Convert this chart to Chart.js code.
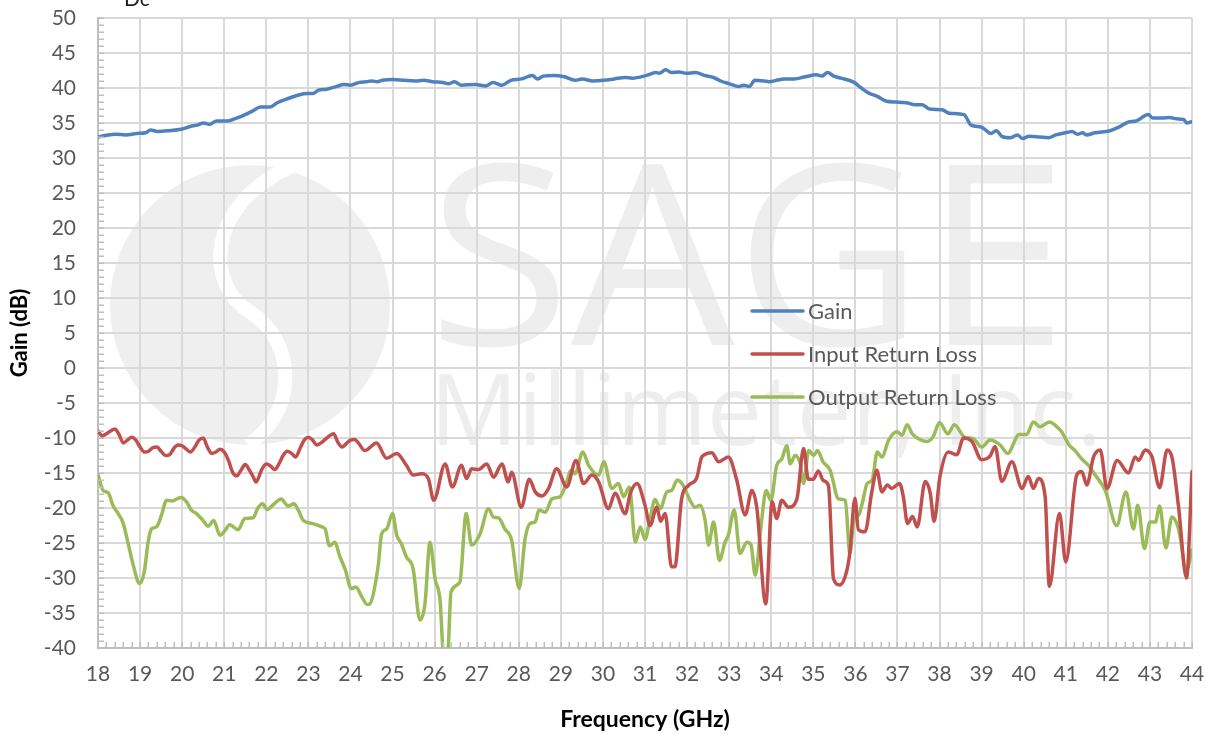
<!DOCTYPE html>
<html>
<head>
<meta charset="utf-8">
<script src="https://cdn.jsdelivr.net/npm/chart.js@4"></script>
<style>
html,body{margin:0;padding:0;background:#fff;}
canvas{display:block;}
</style>
</head>
<body>
<canvas id="c" width="1205" height="734"></canvas>
<script>
const gainFreq = [18.0,18.24,18.41,18.66,18.92,19.13,19.25,19.42,19.68,19.97,20.19,20.36,20.51,20.65,20.82,21.08,21.29,21.46,21.67,21.86,22.09,22.26,22.52,22.77,22.98,23.11,23.24,23.41,23.66,23.85,24.0,24.21,24.38,24.51,24.64,24.76,25.02,25.27,25.53,25.74,25.95,26.2,26.33,26.47,26.63,26.97,27.22,27.39,27.6,27.81,28.07,28.32,28.45,28.58,28.83,29.08,29.34,29.51,29.76,30.02,30.27,30.53,30.69,31.04,31.26,31.34,31.49,31.63,31.81,31.98,32.2,32.41,32.63,32.8,33.01,33.23,33.35,33.48,33.61,33.83,33.95,34.13,34.3,34.55,34.81,35.07,35.2,35.34,35.49,35.66,35.97,36.14,36.31,36.52,36.74,36.95,37.21,37.42,37.59,37.76,38.06,38.23,38.58,38.75,39.0,39.22,39.35,39.48,39.69,39.85,39.97,40.13,40.38,40.59,40.76,41.06,41.15,41.28,41.4,41.49,41.7,42.05,42.26,42.47,42.68,42.96,43.07,43.29,43.46,43.63,43.8,43.88,44.0];
const gainDb = [33.0,33.3,33.4,33.3,33.5,33.6,34.0,33.8,33.9,34.1,34.5,34.7,35.0,34.8,35.3,35.3,35.7,36.1,36.7,37.3,37.3,37.9,38.5,39.0,39.2,39.2,39.7,39.8,40.2,40.5,40.4,40.8,40.9,41.0,40.9,41.1,41.2,41.1,41.0,41.1,40.9,40.8,40.6,40.9,40.4,40.5,40.3,40.8,40.4,41.1,41.3,41.8,41.3,41.7,41.8,41.6,41.1,41.3,41.0,41.1,41.3,41.5,41.4,41.8,42.2,42.1,42.6,42.2,42.3,42.1,42.2,41.8,41.5,41.0,40.6,40.2,40.4,40.2,41.1,41.0,40.9,41.1,41.3,41.3,41.6,41.9,41.7,42.2,41.7,41.4,40.8,40.0,39.3,38.8,38.1,38.0,37.9,37.6,37.6,37.0,36.9,36.4,36.2,34.7,34.4,33.5,33.9,33.1,32.9,33.3,32.8,33.1,33.0,32.9,33.3,33.7,33.8,33.4,33.6,33.3,33.6,33.9,34.4,35.1,35.3,36.2,35.7,35.7,35.8,35.6,35.5,35.0,35.2];

const irlFreq = [18.0,18.1,18.2,18.3,18.4,18.5,18.6,18.7,18.8,18.9,19.0,19.1,19.2,19.3,19.4,19.5,19.6,19.7,19.8,19.9,20.0,20.1,20.2,20.3,20.4,20.5,20.6,20.7,20.8,20.9,21.0,21.1,21.2,21.3,21.4,21.5,21.6,21.7,21.75,21.9,22.0,22.1,22.2,22.3,22.4,22.5,22.6,22.7,22.8,22.9,23.0,23.1,23.2,23.3,23.4,23.5,23.6,23.7,23.8,23.9,24.0,24.1,24.2,24.34,24.62,24.86,25.10,25.33,25.49,25.69,25.85,25.98,26.25,26.42,26.64,26.76,26.88,27.04,27.24,27.40,27.60,27.75,27.83,28.06,28.25,28.39,28.55,28.71,28.90,29.14,29.36,29.54,29.74,29.90,30.13,30.29,30.53,30.65,30.81,31.0,31.12,31.28,31.37,31.48,31.63,31.71,31.87,32.03,32.23,32.35,32.59,32.75,32.98,33.18,33.38,33.54,33.66,33.87,34.02,34.13,34.25,34.41,34.61,34.77,34.88,35.00,35.12,35.24,35.36,35.48,35.63,35.79,35.87,35.99,36.07,36.23,36.39,36.51,36.63,36.76,36.86,37.05,37.14,37.24,37.36,37.47,37.66,37.78,37.87,38.01,38.21,38.41,38.57,38.77,39.00,39.20,39.32,39.48,39.72,39.96,40.11,40.23,40.35,40.51,40.61,40.85,41.00,41.26,41.38,41.50,41.66,41.82,41.98,42.22,42.49,42.65,42.73,42.89,43.05,43.23,43.41,43.53,43.68,43.87,44.0];
const irlDb = [-9.0,-9.7,-9.4,-9.0,-8.7,-9.5,-10.7,-10.3,-9.9,-10.3,-11.3,-12.0,-11.9,-11.4,-11.3,-11.9,-12.5,-12.4,-11.5,-11.0,-11.1,-11.6,-12.0,-11.3,-10.3,-10.0,-11.3,-12.2,-12.0,-11.6,-12.0,-13.2,-14.9,-15.4,-14.6,-13.8,-14.6,-15.7,-16.3,-14.4,-13.7,-14.0,-14.5,-13.7,-12.5,-11.9,-12.2,-12.7,-11.5,-10.3,-9.9,-10.3,-11.0,-10.7,-10.2,-9.7,-9.4,-10.6,-11.3,-10.8,-10.3,-10.2,-10.8,-11.8,-10.7,-12.9,-12.2,-13.9,-15.3,-15.1,-15.8,-18.9,-13.7,-17.0,-13.9,-15.8,-14.4,-14.5,-13.7,-15.6,-13.7,-16.3,-14.9,-19.9,-15.9,-17.7,-18.3,-17.2,-14.4,-17.0,-13.2,-16.5,-15.3,-16.3,-20.1,-17.9,-20.8,-17.9,-16.5,-19.6,-22.5,-19.9,-21.9,-20.8,-28.4,-28.4,-18.7,-16.8,-15.7,-12.7,-12.1,-13.4,-12.7,-16.0,-21.0,-17.5,-20.1,-33.7,-19.1,-21.5,-18.9,-19.9,-18.7,-11.5,-15.9,-15.9,-14.7,-16.1,-16.8,-30.1,-31.0,-29.1,-26.3,-18.6,-23.1,-23.4,-17.7,-14.6,-17.7,-16.7,-17.2,-16.5,-18.4,-22.2,-21.2,-22.7,-16.2,-17.9,-21.9,-15.5,-12.0,-12.4,-10.0,-10.5,-13.1,-12.6,-11.2,-16.2,-13.4,-17.2,-15.5,-17.2,-15.8,-18.4,-31.2,-20.8,-27.7,-15.3,-14.8,-16.7,-12.7,-11.7,-17.2,-13.2,-15.0,-12.7,-13.2,-11.7,-12.7,-17.1,-11.7,-12.9,-19.8,-30.0,-14.8];

const orlFreq = [18.0,18.12,18.24,18.36,18.48,18.6,18.71,18.83,18.99,19.1,19.19,19.27,19.39,19.51,19.63,19.77,19.87,19.98,20.1,20.22,20.34,20.5,20.62,20.75,20.9,21.02,21.13,21.33,21.49,21.69,21.79,21.91,22.02,22.17,22.35,22.52,22.66,22.76,22.88,23.08,23.32,23.4,23.5,23.63,23.74,23.87,24.02,24.13,24.27,24.4,24.46,24.66,24.74,24.86,25.0,25.1,25.21,25.33,25.49,25.65,25.77,25.89,26.01,26.13,26.21,26.31,26.39,26.6,26.75,26.88,27.08,27.28,27.4,27.52,27.67,27.83,28.01,28.15,28.27,28.39,28.48,28.63,28.79,28.98,29.1,29.25,29.34,29.52,29.66,29.9,30.02,30.21,30.37,30.49,30.63,30.77,30.89,31.0,31.12,31.24,31.36,31.52,31.63,31.77,31.91,32.07,32.19,32.31,32.43,32.51,32.63,32.77,32.9,32.98,33.12,33.26,33.42,33.52,33.62,33.75,33.88,33.99,34.13,34.25,34.37,34.45,34.57,34.69,34.77,34.89,35.01,35.1,35.23,35.4,35.6,35.76,35.87,35.96,36.08,36.16,36.28,36.4,36.52,36.63,36.79,36.99,37.11,37.23,37.35,37.5,37.7,37.85,38.0,38.2,38.35,38.6,38.8,39.0,39.2,39.44,39.62,39.89,40.07,40.23,40.39,40.61,40.79,40.9,41.08,41.22,41.38,41.54,41.7,41.94,42.21,42.43,42.61,42.71,42.87,43.0,43.13,43.23,43.38,43.52,43.68,43.87,44.0];
const orlDb = [-15.2,-17.5,-17.8,-19.7,-20.8,-22.2,-24.9,-28.0,-30.8,-29.1,-24.9,-23.0,-22.7,-21.0,-18.9,-19.0,-18.7,-18.5,-19.1,-20.3,-20.8,-21.8,-22.6,-21.8,-23.9,-23.2,-22.4,-23.1,-21.5,-21.4,-20.1,-19.4,-20.2,-19.5,-18.7,-19.7,-19.4,-20.3,-21.8,-22.2,-22.7,-23.0,-25.4,-24.9,-26.8,-28.7,-31.5,-31.3,-32.7,-33.8,-33.7,-28.2,-23.7,-23.0,-20.8,-23.9,-25.1,-27.0,-28.7,-36.0,-33.7,-24.9,-30.1,-33.2,-40.6,-40.6,-32.0,-30.6,-20.8,-25.3,-23.7,-20.1,-21.3,-21.4,-23.0,-24.6,-31.5,-24.4,-22.2,-22.0,-20.3,-20.6,-18.7,-18.4,-17.0,-14.6,-15.1,-12.0,-13.9,-15.3,-13.4,-17.2,-16.5,-18.4,-17.0,-24.9,-22.7,-24.5,-21.5,-18.8,-20.1,-17.7,-17.5,-16.0,-16.8,-18.9,-19.9,-19.6,-21.8,-25.3,-22.0,-27.5,-24.9,-23.9,-20.3,-26.5,-24.9,-25.3,-29.6,-23.0,-17.5,-18.9,-13.9,-13.0,-11.1,-13.7,-12.5,-13.7,-16.5,-11.8,-12.5,-11.8,-13.4,-14.6,-18.7,-18.9,-26.5,-21.8,-21.0,-19.4,-16.5,-16.0,-12.0,-12.7,-10.3,-9.1,-9.6,-8.1,-9.4,-10.1,-10.5,-9.8,-7.8,-9.4,-8.1,-9.9,-10.1,-11.3,-10.3,-11.0,-12.2,-9.5,-9.5,-7.7,-8.4,-7.7,-8.4,-9.1,-11.0,-11.8,-13.0,-13.9,-15.3,-17.5,-22.5,-17.7,-23.0,-19.6,-25.8,-22.0,-22.0,-19.7,-25.7,-21.3,-23.0,-28.9,-26.0];

const seriesNames = ['Gain', 'Input Return Loss', 'Output Return Loss'];
const seriesColors = ['#4f81bd', '#c0504d', '#9bbb59'];
const xMin = 18, xMax = 44, xStep = 1, xMinorStep = 0.2;
const yMin = -40, yMax = 50, yStep = 5, yMinorStep = 1;

const FONT = "Lato, 'Open Sans', sans-serif";

function pts(fx, vy) { return fx.map((f, i) => ({x: f, y: vy[i]})); }

const watermark = {
  id: 'watermark',
  beforeDraw(chart) {
    const ctx = chart.ctx;
    ctx.save();
    ctx.fillStyle = '#ffffff';
    ctx.fillRect(0, 0, chart.width, chart.height);
    // logo
    ctx.fillStyle = '#efefef';
    ctx.beginPath();
    ctx.ellipse(250, 305, 140, 140, 0, 0, Math.PI * 2);
    ctx.fill();
    ctx.strokeStyle = '#ffffff';
    ctx.lineWidth = 14;
    ctx.beginPath();
    ctx.moveTo(292, 166);
    ctx.bezierCurveTo(205, 205, 205, 285, 250, 312);
    ctx.bezierCurveTo(295, 340, 300, 410, 248, 445);
    ctx.stroke();
    // text
    ctx.fillStyle = '#eeeeee';
    ctx.textBaseline = 'alphabetic';
    ctx.textAlign = 'left';
    ctx.font = "400 252px 'Open Sans', sans-serif";
    let w = ctx.measureText('SAGE').width;
    ctx.save();
    ctx.translate(428, 345);
    ctx.scale(640 / w, 1);
    ctx.fillText('SAGE', 0, 0);
    ctx.restore();
    ctx.font = "400 98px 'Open Sans', sans-serif";
    w = ctx.measureText('Millimeter, Inc.').width;
    ctx.save();
    ctx.translate(430, 445);
    ctx.scale(672 / w, 1);
    ctx.fillText('Millimeter, Inc.', 0, 0);
    ctx.restore();
    // partial title at top
    ctx.fillStyle = '#222222';
    ctx.font = "21px " + FONT;
    ctx.fillText('Dc', 124, 6);
    ctx.restore();
  }
};

const minorTicks = {
  id: 'minorTicks',
  afterDraw(chart) {
    const ctx = chart.ctx;
    const xs = chart.scales.x, ys = chart.scales.y;
    const a = chart.chartArea;
    ctx.save();
    ctx.strokeStyle = '#bfbfbf';
    ctx.lineWidth = 1.5;
    ctx.beginPath();
    const nx = Math.round((xMax - xMin) / xMinorStep);
    for (let i = 0; i <= nx; i++) {
      const px = Math.round(xs.getPixelForValue(xMin + i * xMinorStep)) + 0.25;
      ctx.moveTo(px, a.bottom);
      ctx.lineTo(px, a.bottom - 6);
    }
    const ny = Math.round((yMax - yMin) / yMinorStep);
    for (let i = 0; i <= ny; i++) {
      const py = Math.round(ys.getPixelForValue(yMin + i * yMinorStep)) + 0.25;
      ctx.moveTo(a.left, py);
      ctx.lineTo(a.left + 6, py);
    }
    ctx.stroke();
    ctx.restore();
  }
};

const customLegend = {
  id: 'customLegend',
  afterDraw(chart) {
    const ctx = chart.ctx;
    ctx.save();
    ctx.font = "22px " + FONT;
    ctx.textBaseline = 'middle';
    ctx.textAlign = 'left';
    chart.data.datasets.forEach((ds, i) => {
      const y = 311 + i * 43;
      ctx.strokeStyle = ds.borderColor;
      ctx.lineWidth = 3.5;
      ctx.lineCap = 'round';
      ctx.beginPath();
      ctx.moveTo(752, y);
      ctx.lineTo(803, y);
      ctx.stroke();
      ctx.fillStyle = '#595959';
      ctx.fillText(ds.label, 808, y + 1);
    });
    ctx.restore();
  }
};

const datasets = [
  {label: seriesNames[0], data: pts(gainFreq, gainDb), borderColor: seriesColors[0]},
  {label: seriesNames[1], data: pts(irlFreq, irlDb), borderColor: seriesColors[1]},
  {label: seriesNames[2], data: pts(orlFreq, orlDb), borderColor: seriesColors[2]}
].map(d => Object.assign(d, {
  borderWidth: 3.5, pointRadius: 0, fill: false,
  cubicInterpolationMode: 'monotone', borderJoinStyle: 'round', borderCapStyle: 'round'
}));

new Chart(document.getElementById('c'), {
  type: 'line',
  data: {datasets},
  options: {
    responsive: false,
    animation: false,
    devicePixelRatio: 1,
    layout: {padding: {left: 0, right: 13, top: 18, bottom: 0}},
    plugins: {legend: {display: false}, tooltip: {enabled: false}},
    scales: {
      x: {
        type: 'linear', min: xMin, max: xMax,
        ticks: {stepSize: xStep, color: '#595959', font: {family: FONT, size: 21}, padding: 14},
        grid: {color: '#d9d9d9', lineWidth: 2, drawTicks: false},
        border: {color: '#bfbfbf', width: 2},
        title: {display: true, text: 'Frequency (GHz)', color: '#000000',
                font: {family: FONT, size: 23, weight: 'bold'}, padding: {top: 0, bottom: 1}},
        afterFit(s) { s.height = 86; s.paddingLeft = 0; s.paddingRight = 0; }
      },
      y: {
        type: 'linear', min: yMin, max: yMax,
        ticks: {stepSize: yStep, color: '#595959', font: {family: FONT, size: 21}, padding: 22},
        grid: {color: '#d9d9d9', lineWidth: 2, drawTicks: false},
        border: {color: '#bfbfbf', width: 2},
        title: {display: true, text: 'Gain (dB)', color: '#000000',
                font: {family: FONT, size: 22, weight: 'bold'}, padding: {top: 7, bottom: 0}},
        afterFit(s) { s.width = 98; s.paddingTop = 0; s.paddingBottom = 0; }
      }
    }
  },
  plugins: [watermark, minorTicks, customLegend]
});
</script>
</body>
</html>
